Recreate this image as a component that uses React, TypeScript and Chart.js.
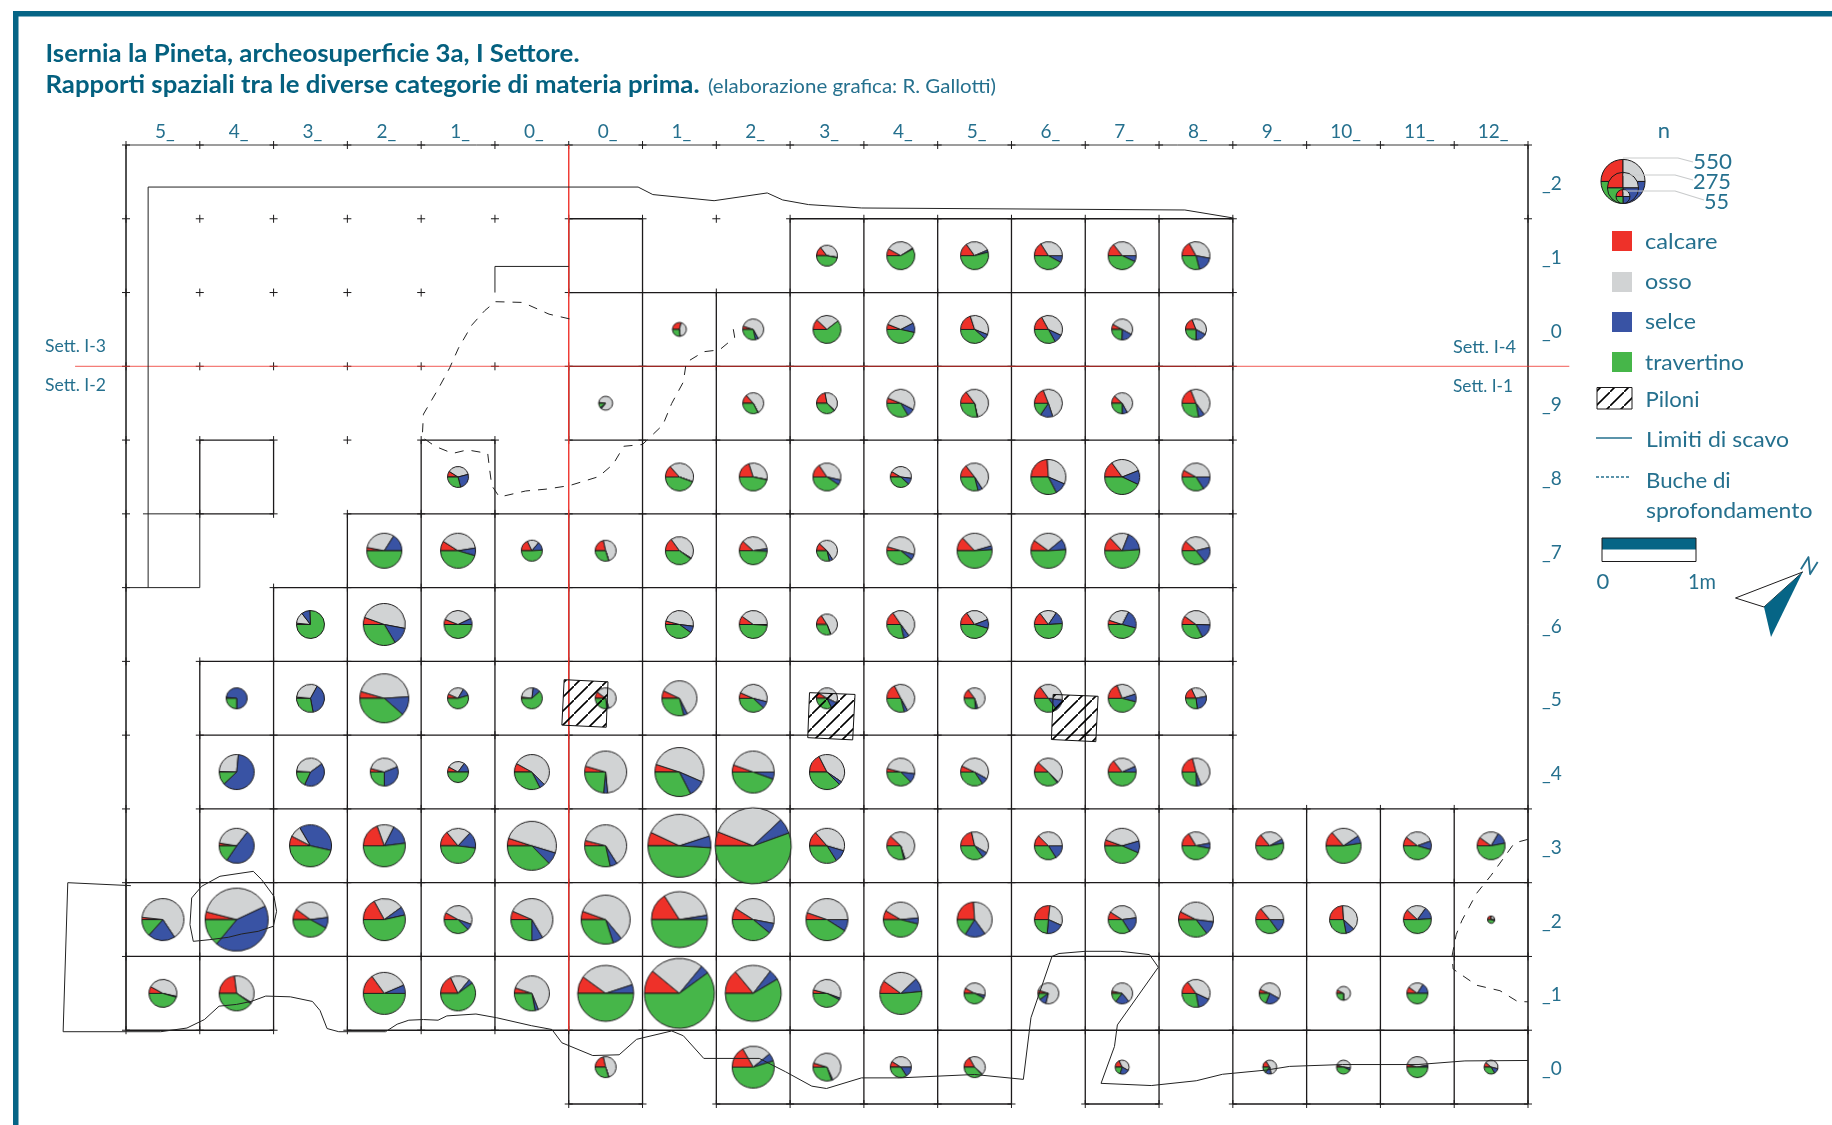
import React, { useEffect, useRef } from "react";
import { Chart, registerables } from "chart.js";

Chart.register(...registerables);

// Squares: columns and rows of the excavation grid
const columnLabels = ["5_", "4_", "3_", "2_", "1_", "0_", "0_", "1_", "2_", "3_", "4_", "5_", "6_", "7_", "8_", "9_", "10_", "11_", "12_"];
const rowLabels = ["_2", "_1", "_0", "_9", "_8", "_7", "_6", "_5", "_4", "_3", "_2", "_1", "_0"];

// Per row of squares: the column of each pie, its n, and the share (%) of each raw material
const cols = [
  [],
  [9, 10, 11, 12, 13, 14],
  [7, 8, 9, 10, 11, 12, 13, 14],
  [6, 8, 9, 10, 11, 12, 13, 14],
  [4, 7, 8, 9, 10, 11, 12, 13, 14],
  [3, 4, 5, 6, 7, 8, 9, 10, 11, 12, 13, 14],
  [2, 3, 4, 7, 8, 9, 10, 11, 12, 13, 14],
  [1, 2, 3, 4, 5, 6, 7, 8, 9, 10, 11, 12, 13, 14],
  [1, 2, 3, 4, 5, 6, 7, 8, 9, 10, 11, 12, 13, 14],
  [1, 2, 3, 4, 5, 6, 7, 8, 9, 10, 11, 12, 13, 14, 15, 16, 17, 18],
  [0, 1, 2, 3, 4, 5, 6, 7, 8, 9, 10, 11, 12, 13, 14, 15, 16, 17, 18],
  [0, 1, 3, 4, 5, 6, 7, 8, 9, 10, 11, 12, 13, 14, 15, 16, 17],
  [6, 8, 9, 10, 11, 13, 15, 16, 17, 18],
];
const totals = [
  [],
  [125, 222, 222, 222, 222, 222],
  [55, 125, 222, 222, 222, 222, 125, 125],
  [55, 125, 125, 222, 222, 222, 125, 222],
  [125, 222, 222, 222, 125, 222, 347, 347, 222],
  [347, 347, 125, 125, 222, 222, 125, 222, 347, 347, 347, 222],
  [222, 500, 222, 222, 222, 125, 222, 222, 222, 222, 222],
  [125, 222, 680, 125, 125, 125, 347, 222, 125, 222, 125, 222, 222, 125],
  [347, 222, 222, 125, 347, 500, 680, 500, 347, 222, 222, 222, 222, 222],
  [347, 500, 500, 347, 680, 500, 1123, 1634, 347, 222, 222, 222, 347, 222, 222, 347, 222, 222],
  [500, 1123, 347, 500, 222, 500, 680, 887, 500, 500, 347, 347, 222, 222, 347, 222, 222, 222, 15],
  [222, 347, 500, 347, 347, 887, 1386, 887, 222, 500, 125, 125, 125, 222, 125, 55, 125],
  [125, 500, 222, 125, 125, 55, 55, 55, 125, 55],
];
const calcare = [
  [],
  [14.4, 8, 15, 16, 14.5, 17],
  [29, 5, 12, 6, 20, 17, 8, 19],
  [2, 13.6, 22, 6, 14.7, 19, 12, 19],
  [9, 13.4, 20, 15.5, 8.5, 14.5, 24, 15, 8],
  [3, 9, 18, 21.5, 15, 11.7, 12, 4.5, 13, 10, 13, 11.7],
  [1.5, 5.5, 6, 4, 10, 16, 15.5, 15.5, 14.7, 5, 10],
  [1, 1.5, 4.5, 6.5, 2, 10, 7, 6.5, 9, 17.5, 14.7, 15, 19, 18],
  [0.5, 1, 4, 8, 8, 4.5, 5, 5.5, 17.5, 4, 7, 12, 14.5, 21],
  [2.5, 7.5, 19.5, 14, 5, 4, 7, 6, 13.6, 12, 21.5, 12.5, 5.5, 16.4, 14, 13.6, 10.5, 10],
  [1.7, 4, 10, 17, 8, 6.5, 5.5, 16, 9, 5.3, 8.5, 24, 26.7, 9, 7.5, 14, 24, 12, 25],
  [8, 23, 15, 18, 5, 10, 11, 14, 4, 10, 8, 5, 3.5, 15, 6, 8, 10],
  [21.5, 16.7, 4.7, 9, 17, 18, 16, 5, 4.5, 11.5],
];
const osso = [
  [],
  [38, 33, 28.6, 34, 35.5, 36],
  [44, 62, 27.5, 36.5, 36, 40, 50, 39],
  [84, 53.5, 40, 51.5, 56.7, 51, 55, 46],
  [37, 42, 33, 38, 43.5, 51.5, 32.5, 29, 42],
  [31, 38.5, 18, 48.5, 44, 36, 54, 50, 32.5, 29, 18, 34.5],
  [13, 47.5, 37, 48, 40, 53, 49.5, 28.7, 19.7, 27.5, 40.5],
  [0.5, 31.5, 44.5, 27, 25, 60, 60.5, 47.5, 48, 49.5, 55.5, 37, 26, 29],
  [26, 39, 40, 27, 54.5, 69, 51.5, 44.5, 42, 48, 51, 50.5, 29, 48],
  [33, 9, 13, 23, 49.7, 62, 38, 32, 41, 58, 37, 37.5, 40, 30.5, 28, 27, 34, 23.5],
  [64, 39, 38, 23, 47.5, 60, 58.5, 31.5, 44, 44.7, 40, 41, 30, 39, 44.5, 36, 38, 23, 25],
  [45.5, 36, 28.6, 18, 64, 35, 25, 21.5, 51.5, 28, 45, 74, 60.5, 42, 52, 66, 24],
  [48.5, 22.5, 63.5, 41, 45, 40, 56, 47, 42.5, 42.5],
];
const selce = [
  [],
  [0.5, 1, 2.5, 8, 7, 18],
  [1, 4.5, 0, 11, 5.5, 10, 17.5, 17],
  [3, 0.5, 1, 9, 0.5, 14.5, 8, 7],
  [25, 0.3, 0.3, 6, 10, 5, 11, 13, 16],
  [16, 7, 13, 0.5, 1, 3, 5.5, 6.5, 3.5, 10, 18, 18],
  [10, 13.5, 7, 8, 1, 0.5, 6.5, 10.3, 14.5, 21.5, 17],
  [73.5, 39, 12.5, 12, 11.5, 3, 3.5, 8, 11, 4, 3.5, 13, 9, 26],
  [61.5, 42, 31, 15, 5, 3, 11, 5.5, 3, 10.5, 7.5, 1.5, 6.5, 5.5],
  [49, 37, 15.5, 15, 8, 5.5, 6, 6.5, 11.5, 1.5, 6.5, 16, 11, 6, 5, 7, 10, 13.5],
  [21, 43, 10, 6.5, 7, 8.5, 6, 2.5, 8, 9, 5.5, 19, 19.7, 18, 12.5, 15, 10, 14, 5],
  [1, 1, 6.4, 4, 3, 5, 4, 6, 2, 10.5, 4.5, 11, 21.5, 15, 23, 1, 16],
  [0.5, 6, 1.5, 16, 1, 22, 14, 5, 3, 12.5],
];
const travertino = [
  [],
  [47, 58, 54, 42, 43, 29],
  [26, 28.5, 60.5, 46.5, 38.5, 33, 24.5, 25],
  [11, 32.4, 37, 33.5, 28, 15.5, 25, 28],
  [29, 44.3, 46.7, 40.5, 38, 29, 32.5, 43, 34],
  [50, 45.5, 51, 29.5, 40, 49.3, 28.5, 39, 51, 51, 51, 35.8],
  [75.5, 33.5, 50, 40, 49, 30.5, 28.5, 45.5, 51, 46, 32.5],
  [25, 28, 38.5, 54.5, 61.5, 27, 29, 38, 32, 29, 26.3, 35, 46, 27],
  [12, 18, 25, 50, 32.5, 23.5, 32.5, 44.5, 37.5, 37.5, 34.5, 36, 50, 25.5],
  [15.5, 46.5, 52, 48, 37.3, 28.5, 49, 55.5, 34, 28.5, 35, 34, 43.5, 47, 53, 52.4, 45.5, 53],
  [13.3, 14, 42, 53.5, 37.5, 25, 30, 50, 39, 41, 46, 16, 23.6, 34, 35.5, 35, 28, 51, 45],
  [45.5, 40, 50, 60, 28, 50, 60, 58.5, 42.5, 51.5, 42.5, 10, 14.5, 28, 19, 25, 50],
  [29.5, 54.8, 30.3, 34, 37, 20, 14, 43, 50, 33.5],
];
const materialNames = ["calcare", "osso", "selce", "travertino"];
const materialColors = ["#EE3129", "#D1D3D4", "#3953A4", "#46B649"];
const legendSizes = [550, 275, 55];

// Outlined squares with no pie, [column, row]
const emptySquares = [[6, 1], [5, 6], [6, 6], [1, 4]];
// Nodes of the grid marked with a cross away from the outlined squares
const crossNodes = [
  [1, 1], [2, 1], [3, 1], [4, 1], [5, 1], [8, 1], [19, 1],
  [1, 2], [2, 2], [3, 2], [4, 2],
  [1, 3], [2, 3], [3, 3], [4, 3], [5, 3],
  [3, 4],
];

// Lines in grid units (x: columns, y: rows)
const frameLines = [
  [[0, 0], [19, 0], [19, 13]],
  [[0, 0], [0, 12]],
];
const limitLines = [
  [[0.3, 6], [0.3, 0.57], [6.94, 0.57], [7.14, 0.672], [7.97, 0.755], [8.69, 0.65], [8.9, 0.745], [9.25, 0.808], [9.97, 0.854], [14.35, 0.881], [15.01, 0.99]],
  [[0, 6], [1, 6], [1, 5]],
  [[0.23, 5], [1, 5]],
  [[5, 2], [5, 1.646], [6, 1.646]],
  [[0.066, 10.04], [-0.789, 10.0], [-0.852, 12.02], [0.47, 12.02], [0.826, 11.97], [1.063, 11.855], [1.261, 11.674], [1.498, 11.65], [1.696, 11.61], [1.894, 11.537], [2.227, 11.547], [2.527, 11.61], [2.63, 11.733], [2.725, 11.977], [2.883, 12.02], [3.517, 12.02], [3.675, 11.918], [3.833, 11.864], [4.031, 11.855], [4.229, 11.864], [4.348, 11.806], [4.743, 11.78], [5.02, 11.83], [5.493, 11.938], [5.772, 11.99], [5.907, 12.17], [6.326, 12.343], [6.683, 12.333], [6.92, 12.123], [7.395, 12.01], [7.553, 12.075], [7.83, 12.382], [8.582, 12.382], [8.938, 12.563], [9.294, 12.758], [9.493, 12.79], [9.967, 12.646], [10.48, 12.646], [11.5, 12.6], [12.161, 12.666], [12.264, 11.83], [12.549, 11.0], [12.644, 10.96], [13.0, 10.93], [13.475, 10.93], [13.87, 10.975], [13.99, 11.146], [13.435, 11.928], [13.396, 12.22], [13.214, 12.72], [13.895, 12.75], [14.504, 12.685], [14.86, 12.597], [15.454, 12.54], [15.77, 12.49], [16.483, 12.465], [17.51, 12.465], [18.145, 12.416], [19.0, 12.41]],
  [[0.89, 10.207], [1.025, 10.049], [1.273, 9.913], [1.725, 9.846], [1.838, 9.959], [2.005, 10.184], [2.041, 10.388], [1.996, 10.591], [1.793, 10.659], [1.567, 10.695], [1.386, 10.74], [1.138, 10.772], [0.912, 10.795], [0.867, 10.569], [0.89, 10.207]],
];
const hollowLines = [
  [[6.01, 2.357], [5.733, 2.293], [5.376, 2.134], [5.005, 2.124], [4.862, 2.245], [4.688, 2.439], [4.506, 2.753], [4.387, 3.02], [4.229, 3.31], [4.031, 3.649], [4.015, 3.963], [4.189, 4.084], [4.427, 4.181], [4.625, 4.133], [4.902, 4.181], [4.925, 4.375], [4.957, 4.617], [5.06, 4.772], [5.416, 4.69], [5.693, 4.665], [6.01, 4.617], [6.405, 4.496], [6.603, 4.326], [6.746, 4.084], [6.999, 4.06], [7.276, 3.794], [7.395, 3.504], [7.553, 3.213], [7.593, 2.947], [7.83, 2.802], [8.044, 2.777], [8.249, 2.608], [8.226, 2.473]],
  [[19.0, 9.412], [18.817, 9.461], [18.659, 9.681], [18.5, 9.9], [18.303, 10.145], [18.105, 10.511], [18.026, 10.706], [17.97, 11.0], [17.986, 11.171], [18.303, 11.39], [18.62, 11.464], [18.857, 11.61], [19.0, 11.615]],
];
const sectorLines = [
  [[6, 0], [6, 12]],
  [[-0.69, 3], [19.56, 3]],
];
const pillars = [
  [[5.938, 7.248], [6.532, 7.277], [6.508, 7.893], [5.907, 7.864]],
  [[9.263, 7.424], [9.88, 7.448], [9.848, 8.064], [9.239, 8.034]],
  [[12.565, 7.448], [13.174, 7.473], [13.143, 8.088], [12.541, 8.059]],
];

const TEAL = "#04607F";
const TEXT = "#25708E";
const INK = "#1c1a1b";
const FONT = "Lato";

function pieRadius(n: number) {
  return 0.94 * Math.sqrt(n);
}

function paintPie(ctx: CanvasRenderingContext2D, cx: number, cy: number, r: number, shares: number[]) {
  const sum = shares.reduce((a, b) => a + b, 0);
  let a = Math.PI;
  ctx.lineWidth = 1;
  ctx.strokeStyle = INK;
  ctx.lineJoin = "round";
  shares.forEach((s, i) => {
    if (s <= 0) return;
    const b = a + (s / sum) * Math.PI * 2;
    ctx.beginPath();
    ctx.moveTo(cx, cy);
    ctx.arc(cx, cy, r, a, b);
    ctx.closePath();
    ctx.fillStyle = materialColors[i];
    ctx.fill();
    ctx.stroke();
    a = b;
  });
}

function pieImage(r: number, shares: number[]) {
  const c = document.createElement("canvas");
  const size = Math.ceil(r * 2 + 4);
  c.width = size;
  c.height = size;
  paintPie(c.getContext("2d")!, size / 2, size / 2, r, shares);
  return c;
}

function hatchPattern() {
  const t = document.createElement("canvas");
  t.width = 14;
  t.height = 14;
  const g = t.getContext("2d")!;
  g.strokeStyle = "#000";
  g.lineWidth = 1.6;
  g.beginPath();
  g.moveTo(-2, 16);
  g.lineTo(16, -2);
  g.stroke();
  return g.createPattern(t, "repeat")!;
}

function toPoints(lines: number[][][]) {
  const out: { x: number; y: number }[] = [];
  lines.forEach((l) => {
    l.forEach(([x, y]) => out.push({ x, y }));
    out.push({ x: NaN, y: NaN });
  });
  return out;
}

function label(
  ctx: CanvasRenderingContext2D,
  str: string,
  x: number,
  y: number,
  weight: number,
  size: number,
  color: string,
  width?: number,
  align: "left" | "center" = "left",
) {
  ctx.save();
  ctx.font = `${weight} ${size}px ${FONT}`;
  ctx.fillStyle = color;
  ctx.textBaseline = "alphabetic";
  const w = ctx.measureText(str).width;
  const sx = width ? width / w : 1;
  const left = align === "center" ? x - (w * sx) / 2 : x;
  ctx.translate(left, y);
  ctx.scale(sx, 1);
  ctx.fillText(str, 0, 0);
  ctx.restore();
}

const furniture = {
  id: "furniture",
  afterDraw(chart: any) {
    const ctx: CanvasRenderingContext2D = chart.ctx;
    ctx.save();
    // Page frame
    ctx.fillStyle = "#066586";
    ctx.fillRect(13, 11, 1819, 5.5);
    ctx.fillRect(13, 11, 5.5, 1114);
    // Title
    label(ctx, "Isernia la Pineta, archeosuperficie 3a, I Settore.", 45.5, 62, 700, 24, TEAL, 534);
    label(ctx, "Rapporti spaziali tra le diverse categorie di materia prima.", 45.5, 93, 700, 24, TEAL, 654);
    label(ctx, "(elaborazione grafica: R. Gallotti)", 708, 93, 400, 19, TEXT, 288);
    // Sector labels
    label(ctx, "Sett. I-3", 45, 352, 400, 17, TEXT, 61);
    label(ctx, "Sett. I-2", 45, 391, 400, 17, TEXT, 61);
    label(ctx, "Sett. I-4", 1453, 353, 400, 17, TEXT, 63);
    label(ctx, "Sett. I-1", 1453, 392, 400, 17, TEXT, 60);
    // Size legend
    label(ctx, "n", 1664, 138, 400, 22, TEXT, undefined, "center");
    const bottom = 203.5;
    legendSizes.forEach((n) => {
      const r = pieRadius(n);
      paintPie(ctx, 1623, bottom - r, r, [25, 25, 25, 25]);
    });
    ctx.strokeStyle = "#C9CBCC";
    ctx.lineWidth = 1.2;
    [
      [[1623, 158], [1678, 158], [1693, 162]],
      [[1623, 175], [1675, 175], [1693, 180]],
      [[1623, 191], [1675, 191], [1704, 200]],
    ].forEach((l) => {
      ctx.beginPath();
      l.forEach(([x, y], i) => (i ? ctx.lineTo(x, y) : ctx.moveTo(x, y)));
      ctx.stroke();
    });
    label(ctx, String(legendSizes[0]), 1693, 168.6, 400, 22, TEXT, 39);
    label(ctx, String(legendSizes[1]), 1693, 189, 400, 22, TEXT, 38);
    label(ctx, String(legendSizes[2]), 1704, 209, 400, 22, TEXT, 25);
    // Material legend
    const swatchY = [231, 272, 312, 352];
    const nameBase = [249, 289, 328.6, 369.6];
    const nameW = [72.4, 46.7, 51, 99];
    materialNames.forEach((name, i) => {
      ctx.fillStyle = materialColors[i];
      ctx.fillRect(1612, swatchY[i], 20, 20);
      label(ctx, name, 1645, nameBase[i], 400, 22, TEXT, nameW[i]);
    });
    // Pillar, limit and hollow legend
    ctx.fillStyle = chart.$hatch;
    ctx.fillRect(1597, 387.5, 35, 21.5);
    ctx.strokeStyle = INK;
    ctx.lineWidth = 1;
    ctx.strokeRect(1597, 387.5, 35, 21.5);
    label(ctx, "Piloni", 1645.5, 407, 400, 22, TEXT, 54);
    ctx.strokeStyle = TEXT;
    ctx.lineWidth = 1.5;
    ctx.beginPath();
    ctx.moveTo(1596, 438);
    ctx.lineTo(1632, 438);
    ctx.stroke();
    label(ctx, "Limiti di scavo", 1646, 447, 400, 22, TEXT, 143);
    ctx.setLineDash([3, 2]);
    ctx.beginPath();
    ctx.moveTo(1596, 477);
    ctx.lineTo(1631, 477);
    ctx.stroke();
    ctx.setLineDash([]);
    label(ctx, "Buche di", 1646, 488, 400, 22, TEXT, 84.7);
    label(ctx, "sprofondamento", 1646, 518, 400, 22, TEXT, 166.5);
    // Scale bar
    ctx.fillStyle = "#066586";
    ctx.fillRect(1602, 538, 94, 11.5);
    ctx.strokeStyle = INK;
    ctx.lineWidth = 1;
    ctx.strokeRect(1602, 538, 94, 23.5);
    label(ctx, "0", 1603, 589, 400, 22, TEXT, undefined, "center");
    label(ctx, "1m", 1702, 589, 400, 22, TEXT, 28, "center");
    // North arrow
    ctx.beginPath();
    ctx.moveTo(1735.5, 598);
    ctx.lineTo(1802.7, 572);
    ctx.lineTo(1764, 607);
    ctx.closePath();
    ctx.fillStyle = "#fff";
    ctx.fill();
    ctx.strokeStyle = INK;
    ctx.stroke();
    ctx.beginPath();
    ctx.moveTo(1802.7, 572);
    ctx.lineTo(1771, 637);
    ctx.lineTo(1764, 607);
    ctx.closePath();
    ctx.fillStyle = "#066586";
    ctx.fill();
    ctx.save();
    ctx.translate(1809, 566);
    ctx.rotate((32 * Math.PI) / 180);
    label(ctx, "N", 0, 7, 400, 21, TEXT, undefined, "center");
    ctx.restore();
    ctx.restore();
  },
};

export default function App() {
  const ref = useRef<HTMLCanvasElement>(null);

  useEffect(() => {
    const images: HTMLCanvasElement[] = [];
    const pies: { x: number; y: number; r: number }[] = [];
    const squares: number[][] = [...emptySquares];
    cols.forEach((row, ri) => {
      row.forEach((c, i) => {
        const r = pieRadius(totals[ri][i]);
        pies.push({ x: c + 0.5, y: ri + 0.5, r });
        images.push(pieImage(r, [calcare[ri][i], osso[ri][i], selce[ri][i], travertino[ri][i]]));
        squares.push([c, ri]);
      });
    });

    const edgeKeys = new Set<string>();
    const nodeKeys = new Set<string>();
    const edges: number[][][] = [];
    squares.forEach(([c, r]) => {
      const corners = [[c, r], [c + 1, r], [c + 1, r + 1], [c, r + 1]];
      corners.forEach((p, i) => {
        const q = corners[(i + 1) % 4];
        const key = [p, q].map(String).sort().join("|");
        nodeKeys.add(String(p));
        if (!edgeKeys.has(key)) {
          edgeKeys.add(key);
          edges.push([p, q]);
        }
      });
    });
    columnLabels.forEach((_, i) => nodeKeys.add(`${i},0`));
    nodeKeys.add("19,0");
    rowLabels.slice(0, 12).forEach((_, i) => nodeKeys.add(`0,${i}`));
    crossNodes.forEach((n) => nodeKeys.add(String(n)));
    const crosses = [...nodeKeys].map((k) => {
      const [x, y] = k.split(",").map(Number);
      return { x, y };
    });

    const hatch = hatchPattern();
    const line = (data: any, extra: any) => ({
      type: "scatter",
      data,
      showLine: true,
      pointRadius: 0,
      pointHoverRadius: 0,
      spanGaps: false,
      clip: false,
      tension: 0,
      ...extra,
    });

    const chart: any = new Chart(ref.current!, {
      type: "scatter",
      data: {
        datasets: [
          line(toPoints(edges), { label: "griglia", borderColor: INK, borderWidth: 1.3, order: 10 }),
          line(toPoints(frameLines), { label: "cornice", borderColor: "#3a3a3a", borderWidth: 1, order: 9 }),
          {
            type: "scatter",
            label: "tacche",
            data: crosses,
            pointStyle: "cross",
            pointRadius: 4,
            borderColor: INK,
            pointBorderColor: INK,
            pointBorderWidth: 1,
            showLine: false,
            clip: false,
            order: 8,
          },
          line(toPoints(sectorLines), { label: "settori", borderColor: "#EE3129", borderWidth: 0.8, order: 7 }),
          {
            type: "bubble",
            label: "materia prima",
            data: pies,
            clip: false,
            pointStyle: (c: any) => (c.type === "data" ? images[c.dataIndex] : "circle"),
            order: 6,
          },
          line(toPoints(limitLines), { label: "Limiti di scavo", borderColor: "#222", borderWidth: 1, order: 4 }),
          line(toPoints(hollowLines), { label: "Buche di sprofondamento", borderColor: "#222", borderWidth: 1, borderDash: [9, 8], order: 3 }),
          ...pillars.map((p, i) =>
            line([...p, p[0]].map(([x, y]) => ({ x, y })), {
              label: `Pilone ${i + 1}`,
              borderColor: "#111",
              borderWidth: 1,
              backgroundColor: hatch,
              fill: "shape",
              order: 2,
            }),
          ),
        ],
      },
      options: {
        responsive: false,
        animation: false,
        events: [],
        layout: { autoPadding: false, padding: { left: 126, top: 115, right: 244, bottom: 21 } },
        plugins: { legend: { display: false }, tooltip: { enabled: false }, title: { display: false } },
        scales: {
          x: {
            type: "linear",
            position: "top",
            min: 0,
            max: 19,
            grid: { display: false, drawTicks: false },
            border: { display: false },
            afterBuildTicks: (s: any) => {
              s.ticks = columnLabels.map((_, i) => ({ value: i + 0.5 }));
            },
            afterFit: (s: any) => {
              s.height = 30;
              s.paddingLeft = 0;
              s.paddingRight = 0;
              s.paddingTop = 0;
              s.paddingBottom = 0;
            },
            ticks: {
              autoSkip: false,
              maxRotation: 0,
              minRotation: 0,
              padding: 2,
              labelOffset: 2,
              color: TEXT,
              font: { family: FONT, size: 19 },
              callback: (_: any, i: number) => columnLabels[i],
            },
          },
          y: {
            type: "linear",
            position: "right",
            reverse: true,
            min: 0,
            max: 13,
            grid: { display: false, drawTicks: false },
            border: { display: false },
            afterBuildTicks: (s: any) => {
              s.ticks = rowLabels.map((_, i) => ({ value: i + 0.5 }));
            },
            afterFit: (s: any) => {
              s.width = 60;
              s.paddingLeft = 0;
              s.paddingRight = 0;
              s.paddingTop = 0;
              s.paddingBottom = 0;
            },
            ticks: {
              autoSkip: false,
              padding: 14,
              labelOffset: 2,
              color: TEXT,
              font: { family: FONT, size: 19 },
              callback: (_: any, i: number) => rowLabels[i],
            },
          },
        },
      },
      plugins: [furniture],
    } as any);
    chart.$hatch = hatch;
    chart.draw();

    return () => chart.destroy();
  }, []);

  return (
    <canvas
      ref={ref}
      width={1832}
      height={1125}
      style={{ position: "absolute", left: 0, top: 0, width: 1832, height: 1125, display: "block", background: "#fff" }}
    />
  );
}
